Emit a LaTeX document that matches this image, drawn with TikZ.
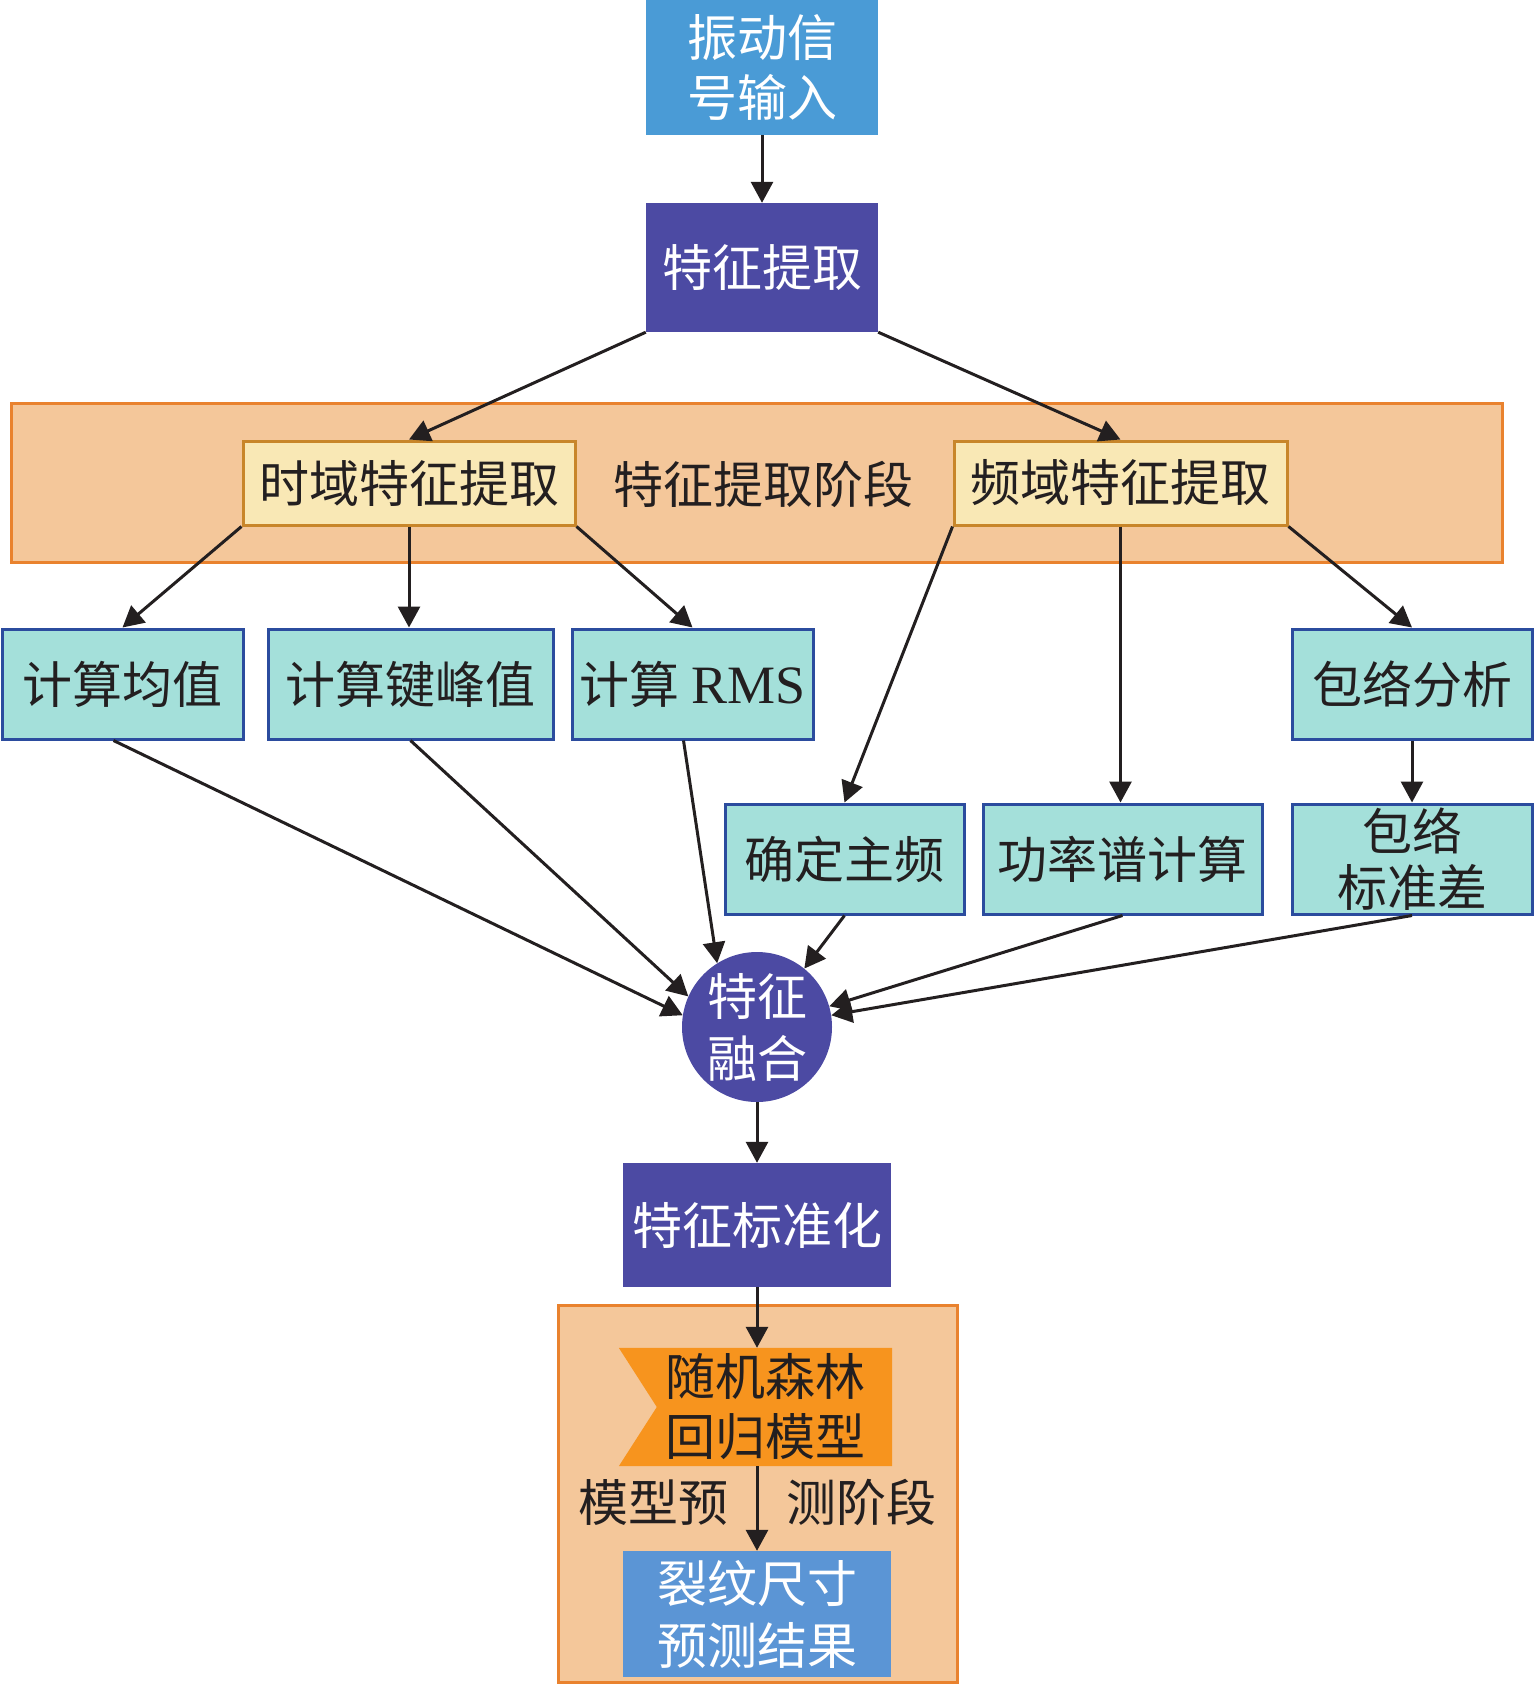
\documentclass[tikz,border=0pt]{standalone}
\usepackage{fontspec}
\setmainfont{Liberation Serif}
\newfontfamily\cjk{Noto Sans CJK SC}
\usetikzlibrary{arrows.meta,backgrounds}
\definecolor{inblue}{HTML}{4A9BD6}
\definecolor{purp}{HTML}{4C4AA3}
\definecolor{stagebg}{HTML}{F4C79A}
\definecolor{stageln}{HTML}{E9822E}
\definecolor{ylw}{HTML}{F9E8B5}
\definecolor{ylwln}{HTML}{C8862A}
\definecolor{tealc}{HTML}{A4E0DA}
\definecolor{tealln}{HTML}{2B4C9E}
\definecolor{rfor}{HTML}{F7941E}
\definecolor{resblue}{HTML}{5B95D5}
\definecolor{ink}{HTML}{231F20}
\begin{document}
\begin{tikzpicture}[x=1pt,y=-1pt,
  every node/.style={font=\cjk\fontsize{50}{60}\selectfont, text=ink, inner sep=0pt, align=center},
  arr/.style={draw=ink, line width=3pt, -{Triangle[length=21pt,width=22pt]}},
  stage/.style={fill=stagebg, draw=stageln, line width=3pt},
  bluebox/.style={fill=inblue, text=white},
  purpbox/.style={fill=purp, text=white},
  ybox/.style={fill=ylw, draw=ylwln, line width=3pt},
  tbox/.style={fill=tealc, draw=tealln, line width=3pt},
  resbox/.style={fill=resblue, text=white},
]
\useasboundingbox (0,0) rectangle (1535,1686);

\begin{scope}[on background layer]
\draw[stage] (11,403) rectangle (1502,562);
\draw[stage] (558,1305) rectangle (957,1682);
\end{scope}

\node[bluebox, minimum width=232pt, minimum height=135pt] (in) at (762,67.5) {振动信\\号输入};
\node[purpbox, minimum width=232pt, minimum height=129pt] (fe) at (762,267.5) {特征提取};

\node[ybox, minimum width=332pt, minimum height=84pt] (td) at (409,483) {时域特征提取};
\node (stg1) at (763,484) {特征提取阶段};
\node[ybox, minimum width=333pt, minimum height=84pt] (fd) at (1120.5,483) {频域特征提取};

\node[tbox, minimum width=241pt, minimum height=110pt] (mean) at (122.5,684) {计算均值};
\node[tbox, minimum width=285pt, minimum height=110pt] (peak) at (410.5,684) {计算键峰值};
\node[tbox, minimum width=241pt, minimum height=110pt] (rms) at (692.5,684) {计算 {\rmfamily\fontsize{54}{60}\selectfont RMS}};
\node[tbox, minimum width=240pt, minimum height=110pt] (env) at (1412,684) {包络分析};

\node[tbox, minimum width=239pt, minimum height=110pt] (dom) at (844.5,859) {确定主频};
\node[tbox, minimum width=279pt, minimum height=110pt] (psd) at (1122.5,859) {功率谱计算};
\node[tbox, minimum width=240pt, minimum height=110pt, font=\cjk\fontsize{50}{56}\selectfont] (envstd) at (1412,859) {包络\\标准差};

\node[circle, fill=purp, text=white, minimum size=150pt, font=\cjk\fontsize{50}{62}\selectfont] (fuse) at (757,1027) {特征\\融合};

\node[purpbox, minimum width=268pt, minimum height=124pt] (norm) at (757,1225) {特征标准化};

\node[minimum width=273pt, minimum height=118pt] (rf) at (755.5,1407) {\hspace*{19pt}随机森林\\\hspace*{19pt}回归模型};
\begin{scope}[on background layer]
\fill[rfor] (rf.north west) -- (rf.north east) -- (rf.south east) -- (rf.south west) -- ([xshift=38pt]rf.west) -- cycle;
\end{scope}

\node (stg2) at (757,1502) {模型预\hspace{58pt}测阶段};

\node[resbox, minimum width=268pt, minimum height=126pt, font=\cjk\fontsize{50}{62}\selectfont] (res) at (757,1614) {裂纹尺寸\\预测结果};

\draw[arr] (in.south) -- (fe.north);
\draw[arr] (fe.south west) -- (td.north);
\draw[arr] (fe.south east) -- (fd.north);
\draw[arr] (td.south west) -- (mean.north);
\draw[arr] (td.south) -- (td.south |- peak.north);
\draw[arr] (td.south east) -- (rms.north);
\draw[arr] (fd.south west) -- (dom.north);
\draw[arr] (fd.south) -- (fd.south |- psd.north);
\draw[arr] (fd.south east) -- (env.north);
\draw[arr] (env.south) -- (envstd.north);
\draw[arr] ([xshift=-9pt]mean.south) -- (fuse.171);
\draw[arr] (peak.south) -- (fuse.156);
\draw[arr] ([xshift=-9pt]rms.south) -- (fuse.122);
\draw[arr] (dom.south) -- (fuse.51);
\draw[arr] (psd.south) -- (fuse.16);
\draw[arr] (envstd.south) -- (fuse.9);
\draw[arr] (fuse.south) -- (norm.north);
\draw[arr] (norm.south) -- (norm.south |- rf.north);
\draw[arr] (res.north |- rf.south) -- (res.north);
\end{tikzpicture}
\end{document}
